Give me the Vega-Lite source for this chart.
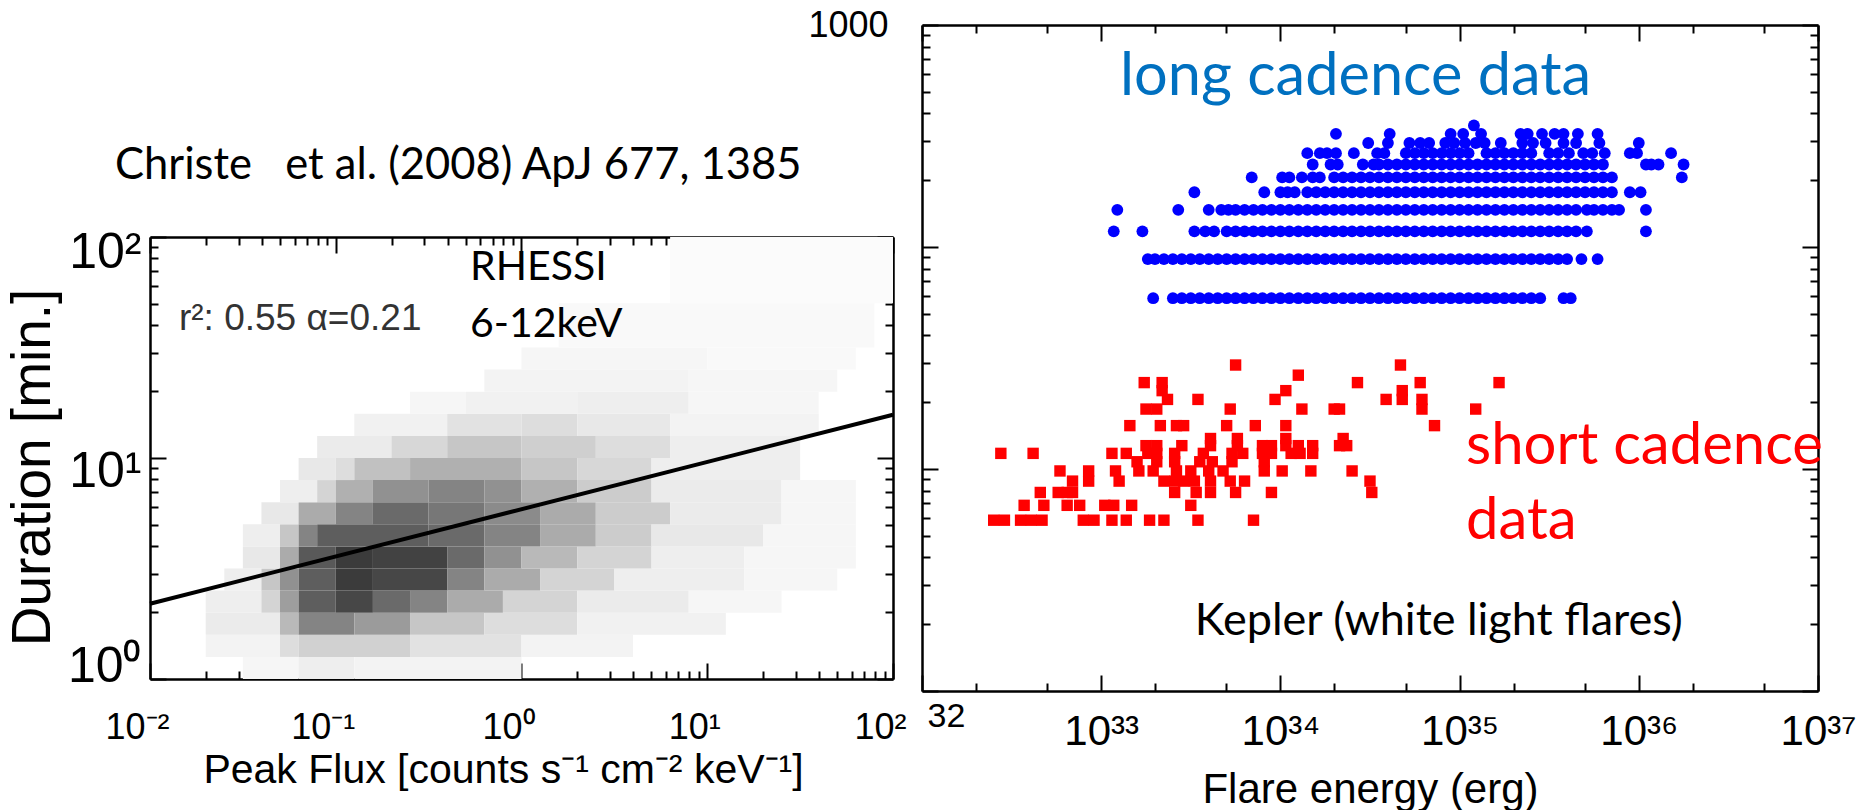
{
"$schema": "https://vega.github.io/schema/vega-lite/v6.json",
"background": "#ffffff",
"padding": {"left": 4, "top": 7, "right": 0, "bottom": 0},
"config": {"view": {"stroke": null}, "axis": {"grid": false}},
"spacing": -100,
"datasets": {
"heat": [
{"x0":0.03162,"x1":0.0631,"y0":1,"y1":1.259,"v":0.03},
{"x0":0.0631,"x1":0.1259,"y0":1,"y1":1.259,"v":0.06},
{"x0":0.1259,"x1":1,"y0":1,"y1":1.259,"v":0.04},
{"x0":0.01995,"x1":0.05012,"y0":1.259,"y1":1.585,"v":0.04},
{"x0":0.05012,"x1":0.0631,"y0":1.259,"y1":1.585,"v":0.12},
{"x0":0.0631,"x1":0.2512,"y0":1.259,"y1":1.585,"v":0.16},
{"x0":0.2512,"x1":1,"y0":1.259,"y1":1.585,"v":0.1},
{"x0":1,"x1":3.981,"y0":1.259,"y1":1.585,"v":0.04},
{"x0":0.01995,"x1":0.05012,"y0":1.585,"y1":1.995,"v":0.07},
{"x0":0.05012,"x1":0.0631,"y0":1.585,"y1":1.995,"v":0.25},
{"x0":0.0631,"x1":0.1259,"y0":1.585,"y1":1.995,"v":0.45},
{"x0":0.1259,"x1":0.2512,"y0":1.585,"y1":1.995,"v":0.36},
{"x0":0.2512,"x1":0.631,"y0":1.585,"y1":1.995,"v":0.2},
{"x0":0.631,"x1":1.995,"y0":1.585,"y1":1.995,"v":0.12},
{"x0":1.995,"x1":12.59,"y0":1.585,"y1":1.995,"v":0.05},
{"x0":0.01995,"x1":0.03981,"y0":1.995,"y1":2.512,"v":0.06},
{"x0":0.03981,"x1":0.05012,"y0":1.995,"y1":2.512,"v":0.15},
{"x0":0.05012,"x1":0.0631,"y0":1.995,"y1":2.512,"v":0.35},
{"x0":0.0631,"x1":0.1,"y0":1.995,"y1":2.512,"v":0.6},
{"x0":0.1,"x1":0.1585,"y0":1.995,"y1":2.512,"v":0.7},
{"x0":0.1585,"x1":0.2512,"y0":1.995,"y1":2.512,"v":0.55},
{"x0":0.2512,"x1":0.3981,"y0":1.995,"y1":2.512,"v":0.45},
{"x0":0.3981,"x1":0.7943,"y0":1.995,"y1":2.512,"v":0.3},
{"x0":0.7943,"x1":1.995,"y0":1.995,"y1":2.512,"v":0.15},
{"x0":1.995,"x1":7.943,"y0":1.995,"y1":2.512,"v":0.07},
{"x0":7.943,"x1":25.12,"y0":1.995,"y1":2.512,"v":0.03},
{"x0":0.02512,"x1":0.03981,"y0":2.512,"y1":3.162,"v":0.06},
{"x0":0.03981,"x1":0.05012,"y0":2.512,"y1":3.162,"v":0.2},
{"x0":0.05012,"x1":0.0631,"y0":2.512,"y1":3.162,"v":0.4},
{"x0":0.0631,"x1":0.1,"y0":2.512,"y1":3.162,"v":0.6},
{"x0":0.1,"x1":0.1585,"y0":2.512,"y1":3.162,"v":0.75},
{"x0":0.1585,"x1":0.3981,"y0":2.512,"y1":3.162,"v":0.7},
{"x0":0.3981,"x1":0.631,"y0":2.512,"y1":3.162,"v":0.45},
{"x0":0.631,"x1":1.259,"y0":2.512,"y1":3.162,"v":0.3},
{"x0":1.259,"x1":3.162,"y0":2.512,"y1":3.162,"v":0.15},
{"x0":3.162,"x1":15.85,"y0":2.512,"y1":3.162,"v":0.06},
{"x0":15.85,"x1":50.12,"y0":2.512,"y1":3.162,"v":0.03},
{"x0":0.03162,"x1":0.05012,"y0":3.162,"y1":3.981,"v":0.08},
{"x0":0.05012,"x1":0.0631,"y0":3.162,"y1":3.981,"v":0.3},
{"x0":0.0631,"x1":0.1,"y0":3.162,"y1":3.981,"v":0.62},
{"x0":0.1,"x1":0.1585,"y0":3.162,"y1":3.981,"v":0.75},
{"x0":0.1585,"x1":0.3981,"y0":3.162,"y1":3.981,"v":0.72},
{"x0":0.3981,"x1":0.631,"y0":3.162,"y1":3.981,"v":0.55},
{"x0":0.631,"x1":1,"y0":3.162,"y1":3.981,"v":0.4},
{"x0":1,"x1":1.995,"y0":3.162,"y1":3.981,"v":0.25},
{"x0":1.995,"x1":5.012,"y0":3.162,"y1":3.981,"v":0.15},
{"x0":5.012,"x1":15.85,"y0":3.162,"y1":3.981,"v":0.06},
{"x0":15.85,"x1":63.1,"y0":3.162,"y1":3.981,"v":0.03},
{"x0":0.03162,"x1":0.05012,"y0":3.981,"y1":5.012,"v":0.06},
{"x0":0.05012,"x1":0.0631,"y0":3.981,"y1":5.012,"v":0.2},
{"x0":0.0631,"x1":0.07943,"y0":3.981,"y1":5.012,"v":0.45},
{"x0":0.07943,"x1":0.3162,"y0":3.981,"y1":5.012,"v":0.6},
{"x0":0.3162,"x1":0.631,"y0":3.981,"y1":5.012,"v":0.55},
{"x0":0.631,"x1":1.259,"y0":3.981,"y1":5.012,"v":0.45},
{"x0":1.259,"x1":2.512,"y0":3.981,"y1":5.012,"v":0.3},
{"x0":2.512,"x1":5.012,"y0":3.981,"y1":5.012,"v":0.18},
{"x0":5.012,"x1":19.95,"y0":3.981,"y1":5.012,"v":0.08},
{"x0":19.95,"x1":63.1,"y0":3.981,"y1":5.012,"v":0.03},
{"x0":0.03981,"x1":0.0631,"y0":5.012,"y1":6.31,"v":0.08},
{"x0":0.0631,"x1":0.1,"y0":5.012,"y1":6.31,"v":0.3},
{"x0":0.1,"x1":0.1585,"y0":5.012,"y1":6.31,"v":0.45},
{"x0":0.1585,"x1":0.3162,"y0":5.012,"y1":6.31,"v":0.55},
{"x0":0.3162,"x1":0.631,"y0":5.012,"y1":6.31,"v":0.5},
{"x0":0.631,"x1":1.259,"y0":5.012,"y1":6.31,"v":0.42},
{"x0":1.259,"x1":2.512,"y0":5.012,"y1":6.31,"v":0.3},
{"x0":2.512,"x1":6.31,"y0":5.012,"y1":6.31,"v":0.18},
{"x0":6.31,"x1":25.12,"y0":5.012,"y1":6.31,"v":0.07},
{"x0":25.12,"x1":63.1,"y0":5.012,"y1":6.31,"v":0.03},
{"x0":0.05012,"x1":0.07943,"y0":6.31,"y1":7.943,"v":0.06},
{"x0":0.07943,"x1":0.1,"y0":6.31,"y1":7.943,"v":0.15},
{"x0":0.1,"x1":0.1585,"y0":6.31,"y1":7.943,"v":0.28},
{"x0":0.1585,"x1":0.3162,"y0":6.31,"y1":7.943,"v":0.4},
{"x0":0.3162,"x1":0.631,"y0":6.31,"y1":7.943,"v":0.45},
{"x0":0.631,"x1":1,"y0":6.31,"y1":7.943,"v":0.4},
{"x0":1,"x1":1.995,"y0":6.31,"y1":7.943,"v":0.28},
{"x0":1.995,"x1":5.012,"y0":6.31,"y1":7.943,"v":0.18},
{"x0":5.012,"x1":25.12,"y0":6.31,"y1":7.943,"v":0.07},
{"x0":25.12,"x1":63.1,"y0":6.31,"y1":7.943,"v":0.03},
{"x0":0.0631,"x1":0.1,"y0":7.943,"y1":10,"v":0.08},
{"x0":0.1,"x1":0.1259,"y0":7.943,"y1":10,"v":0.12},
{"x0":0.1259,"x1":0.2512,"y0":7.943,"y1":10,"v":0.22},
{"x0":0.2512,"x1":1,"y0":7.943,"y1":10,"v":0.28},
{"x0":1,"x1":1.995,"y0":7.943,"y1":10,"v":0.2},
{"x0":1.995,"x1":5.012,"y0":7.943,"y1":10,"v":0.14},
{"x0":5.012,"x1":31.62,"y0":7.943,"y1":10,"v":0.06},
{"x0":0.07943,"x1":0.1995,"y0":10,"y1":12.59,"v":0.07},
{"x0":0.1995,"x1":0.3981,"y0":10,"y1":12.59,"v":0.14},
{"x0":0.3981,"x1":1,"y0":10,"y1":12.59,"v":0.2},
{"x0":1,"x1":2.512,"y0":10,"y1":12.59,"v":0.17},
{"x0":2.512,"x1":6.31,"y0":10,"y1":12.59,"v":0.12},
{"x0":6.31,"x1":31.62,"y0":10,"y1":12.59,"v":0.06},
{"x0":0.1259,"x1":0.3981,"y0":12.59,"y1":15.85,"v":0.05},
{"x0":0.3981,"x1":1,"y0":12.59,"y1":15.85,"v":0.1},
{"x0":1,"x1":1.995,"y0":12.59,"y1":15.85,"v":0.12},
{"x0":1.995,"x1":6.31,"y0":12.59,"y1":15.85,"v":0.08},
{"x0":6.31,"x1":39.81,"y0":12.59,"y1":15.85,"v":0.04},
{"x0":0.2512,"x1":0.5012,"y0":15.85,"y1":19.95,"v":0.03},
{"x0":0.5012,"x1":1.995,"y0":15.85,"y1":19.95,"v":0.05},
{"x0":1.995,"x1":7.943,"y0":15.85,"y1":19.95,"v":0.06},
{"x0":7.943,"x1":39.81,"y0":15.85,"y1":19.95,"v":0.03},
{"x0":0.631,"x1":7.943,"y0":19.95,"y1":25.12,"v":0.04},
{"x0":7.943,"x1":50.12,"y0":19.95,"y1":25.12,"v":0.03},
{"x0":1,"x1":10,"y0":25.12,"y1":31.62,"v":0.03},
{"x0":10,"x1":63.1,"y0":25.12,"y1":31.62,"v":0.02},
{"x0":1.585,"x1":79.43,"y0":31.62,"y1":50.12,"v":0.02},
{"x0":6.31,"x1":100,"y0":50.12,"y1":100,"v":0.015}
],
"long": [
{"e":1.95e33,"d":58.8},{"e":2.512e33,"d":58.8},{"e":2.818e33,"d":58.8},{"e":3.162e33,"d":58.8},{"e":3.548e33,"d":58.8},{"e":3.981e33,"d":58.8},{"e":4.467e33,"d":58.8},{"e":5.012e33,"d":58.8},{"e":5.623e33,"d":58.8},{"e":6.31e33,"d":58.8},{"e":7.079e33,"d":58.8},{"e":7.943e33,"d":58.8},{"e":8.913e33,"d":58.8},
{"e":1e34,"d":58.8},{"e":1.122e34,"d":58.8},{"e":1.259e34,"d":58.8},{"e":1.413e34,"d":58.8},{"e":1.585e34,"d":58.8},{"e":1.778e34,"d":58.8},{"e":1.995e34,"d":58.8},{"e":2.239e34,"d":58.8},{"e":2.512e34,"d":58.8},{"e":2.818e34,"d":58.8},{"e":3.162e34,"d":58.8},{"e":3.548e34,"d":58.8},{"e":3.981e34,"d":58.8},{"e":4.467e34,"d":58.8},{"e":5.012e34,"d":58.8},{"e":5.623e34,"d":58.8},{"e":6.31e34,"d":58.8},{"e":7.079e34,"d":58.8},{"e":7.943e34,"d":58.8},{"e":8.913e34,"d":58.8},
{"e":1e35,"d":58.8},{"e":1.122e35,"d":58.8},{"e":1.259e35,"d":58.8},{"e":1.413e35,"d":58.8},{"e":1.585e35,"d":58.8},{"e":1.778e35,"d":58.8},{"e":1.995e35,"d":58.8},{"e":2.239e35,"d":58.8},{"e":2.512e35,"d":58.8},{"e":2.818e35,"d":58.8},{"e":3.802e35,"d":58.8},{"e":4.169e35,"d":58.8},
{"e":1.82e33,"d":88.2},{"e":1.995e33,"d":88.2},{"e":2.239e33,"d":88.2},{"e":2.512e33,"d":88.2},{"e":2.818e33,"d":88.2},{"e":3.162e33,"d":88.2},{"e":3.548e33,"d":88.2},{"e":3.981e33,"d":88.2},{"e":4.467e33,"d":88.2},{"e":5.012e33,"d":88.2},{"e":5.623e33,"d":88.2},{"e":6.31e33,"d":88.2},{"e":7.079e33,"d":88.2},{"e":7.943e33,"d":88.2},{"e":8.913e33,"d":88.2},
{"e":1e34,"d":88.2},{"e":1.122e34,"d":88.2},{"e":1.259e34,"d":88.2},{"e":1.413e34,"d":88.2},{"e":1.585e34,"d":88.2},{"e":1.778e34,"d":88.2},{"e":1.995e34,"d":88.2},{"e":2.239e34,"d":88.2},{"e":2.512e34,"d":88.2},{"e":2.818e34,"d":88.2},{"e":3.162e34,"d":88.2},{"e":3.548e34,"d":88.2},{"e":3.981e34,"d":88.2},{"e":4.467e34,"d":88.2},{"e":5.012e34,"d":88.2},{"e":5.623e34,"d":88.2},{"e":6.31e34,"d":88.2},{"e":7.079e34,"d":88.2},{"e":7.943e34,"d":88.2},{"e":8.913e34,"d":88.2},
{"e":1e35,"d":88.2},{"e":1.122e35,"d":88.2},{"e":1.259e35,"d":88.2},{"e":1.413e35,"d":88.2},{"e":1.585e35,"d":88.2},{"e":1.778e35,"d":88.2},{"e":1.995e35,"d":88.2},{"e":2.239e35,"d":88.2},{"e":2.512e35,"d":88.2},{"e":2.818e35,"d":88.2},{"e":3.162e35,"d":88.2},{"e":3.548e35,"d":88.2},{"e":3.981e35,"d":88.2},{"e":4.786e35,"d":88.2},{"e":5.888e35,"d":88.2},
{"e":1.175e33,"d":117.6},{"e":1.698e33,"d":117.6},{"e":3.311e33,"d":117.6},{"e":3.802e33,"d":117.6},{"e":4.266e33,"d":117.6},{"e":5.012e33,"d":117.6},{"e":5.623e33,"d":117.6},{"e":6.31e33,"d":117.6},{"e":7.079e33,"d":117.6},{"e":7.943e33,"d":117.6},{"e":8.913e33,"d":117.6},
{"e":1e34,"d":117.6},{"e":1.122e34,"d":117.6},{"e":1.259e34,"d":117.6},{"e":1.413e34,"d":117.6},{"e":1.585e34,"d":117.6},{"e":1.778e34,"d":117.6},{"e":1.995e34,"d":117.6},{"e":2.239e34,"d":117.6},{"e":2.512e34,"d":117.6},{"e":2.818e34,"d":117.6},{"e":3.162e34,"d":117.6},{"e":3.548e34,"d":117.6},{"e":3.981e34,"d":117.6},{"e":4.467e34,"d":117.6},{"e":5.012e34,"d":117.6},{"e":5.623e34,"d":117.6},{"e":6.31e34,"d":117.6},{"e":7.079e34,"d":117.6},{"e":7.943e34,"d":117.6},{"e":8.913e34,"d":117.6},
{"e":1e35,"d":117.6},{"e":1.122e35,"d":117.6},{"e":1.259e35,"d":117.6},{"e":1.413e35,"d":117.6},{"e":1.585e35,"d":117.6},{"e":1.778e35,"d":117.6},{"e":1.995e35,"d":117.6},{"e":2.239e35,"d":117.6},{"e":2.512e35,"d":117.6},{"e":2.818e35,"d":117.6},{"e":3.162e35,"d":117.6},{"e":3.548e35,"d":117.6},{"e":3.981e35,"d":117.6},{"e":4.467e35,"d":117.6},{"e":5.129e35,"d":117.6},{"e":1.096e36,"d":117.6},
{"e":1.23e33,"d":147},{"e":2.692e33,"d":147},{"e":3.981e33,"d":147},{"e":4.677e33,"d":147},{"e":5.129e33,"d":147},{"e":5.623e33,"d":147},{"e":6.31e33,"d":147},{"e":7.079e33,"d":147},{"e":7.943e33,"d":147},{"e":8.913e33,"d":147},
{"e":1e34,"d":147},{"e":1.122e34,"d":147},{"e":1.259e34,"d":147},{"e":1.413e34,"d":147},{"e":1.585e34,"d":147},{"e":1.778e34,"d":147},{"e":1.995e34,"d":147},{"e":2.239e34,"d":147},{"e":2.512e34,"d":147},{"e":2.818e34,"d":147},{"e":3.162e34,"d":147},{"e":3.548e34,"d":147},{"e":3.981e34,"d":147},{"e":4.467e34,"d":147},{"e":5.012e34,"d":147},{"e":5.623e34,"d":147},{"e":6.31e34,"d":147},{"e":7.079e34,"d":147},{"e":7.943e34,"d":147},{"e":8.913e34,"d":147},
{"e":1e35,"d":147},{"e":1.122e35,"d":147},{"e":1.259e35,"d":147},{"e":1.413e35,"d":147},{"e":1.585e35,"d":147},{"e":1.778e35,"d":147},{"e":1.995e35,"d":147},{"e":2.239e35,"d":147},{"e":2.512e35,"d":147},{"e":2.818e35,"d":147},{"e":3.162e35,"d":147},{"e":3.548e35,"d":147},{"e":3.981e35,"d":147},{"e":4.467e35,"d":147},{"e":5.129e35,"d":147},{"e":5.623e35,"d":147},{"e":6.31e35,"d":147},{"e":7.079e35,"d":147},{"e":7.762e35,"d":147},{"e":1.096e36,"d":147},
{"e":3.311e33,"d":176.4},{"e":8.128e33,"d":176.4},{"e":1e34,"d":176.4},{"e":1.096e34,"d":176.4},{"e":1.202e34,"d":176.4},{"e":1.413e34,"d":176.4},{"e":1.585e34,"d":176.4},{"e":1.778e34,"d":176.4},{"e":1.995e34,"d":176.4},{"e":2.239e34,"d":176.4},{"e":2.512e34,"d":176.4},{"e":2.818e34,"d":176.4},{"e":3.162e34,"d":176.4},{"e":3.548e34,"d":176.4},{"e":3.981e34,"d":176.4},{"e":4.467e34,"d":176.4},{"e":5.012e34,"d":176.4},{"e":5.623e34,"d":176.4},{"e":6.31e34,"d":176.4},{"e":7.079e34,"d":176.4},{"e":7.943e34,"d":176.4},{"e":8.913e34,"d":176.4},
{"e":1e35,"d":176.4},{"e":1.122e35,"d":176.4},{"e":1.259e35,"d":176.4},{"e":1.413e35,"d":176.4},{"e":1.585e35,"d":176.4},{"e":1.778e35,"d":176.4},{"e":1.995e35,"d":176.4},{"e":2.239e35,"d":176.4},{"e":2.512e35,"d":176.4},{"e":2.818e35,"d":176.4},{"e":3.162e35,"d":176.4},{"e":3.548e35,"d":176.4},{"e":3.981e35,"d":176.4},{"e":4.467e35,"d":176.4},{"e":5.012e35,"d":176.4},{"e":5.623e35,"d":176.4},{"e":6.31e35,"d":176.4},{"e":7.079e35,"d":176.4},{"e":8.913e35,"d":176.4},{"e":1.023e36,"d":176.4},
{"e":6.918e33,"d":205.8},{"e":1.023e34,"d":205.8},{"e":1.122e34,"d":205.8},{"e":1.318e34,"d":205.8},{"e":1.514e34,"d":205.8},{"e":1.66e34,"d":205.8},{"e":1.995e34,"d":205.8},{"e":2.239e34,"d":205.8},{"e":2.512e34,"d":205.8},{"e":2.818e34,"d":205.8},{"e":3.162e34,"d":205.8},{"e":3.548e34,"d":205.8},{"e":3.981e34,"d":205.8},{"e":4.467e34,"d":205.8},{"e":5.012e34,"d":205.8},{"e":5.623e34,"d":205.8},{"e":6.31e34,"d":205.8},{"e":7.079e34,"d":205.8},{"e":7.943e34,"d":205.8},{"e":8.913e34,"d":205.8},
{"e":1e35,"d":205.8},{"e":1.122e35,"d":205.8},{"e":1.259e35,"d":205.8},{"e":1.413e35,"d":205.8},{"e":1.585e35,"d":205.8},{"e":1.778e35,"d":205.8},{"e":1.995e35,"d":205.8},{"e":2.239e35,"d":205.8},{"e":2.512e35,"d":205.8},{"e":2.818e35,"d":205.8},{"e":3.162e35,"d":205.8},{"e":3.548e35,"d":205.8},{"e":3.981e35,"d":205.8},{"e":4.467e35,"d":205.8},{"e":5.012e35,"d":205.8},{"e":5.623e35,"d":205.8},{"e":6.31e35,"d":205.8},{"e":7.079e35,"d":205.8},{"e":1.738e36,"d":205.8},
{"e":1.514e34,"d":235.2},{"e":1.905e34,"d":235.2},{"e":2.089e34,"d":235.2},{"e":2.884e34,"d":235.2},{"e":3.311e34,"d":235.2},{"e":3.548e34,"d":235.2},{"e":3.981e34,"d":235.2},{"e":4.467e34,"d":235.2},{"e":5.012e34,"d":235.2},{"e":5.623e34,"d":235.2},{"e":6.31e34,"d":235.2},{"e":7.079e34,"d":235.2},{"e":7.943e34,"d":235.2},{"e":8.913e34,"d":235.2},
{"e":1e35,"d":235.2},{"e":1.122e35,"d":235.2},{"e":1.259e35,"d":235.2},{"e":1.413e35,"d":235.2},{"e":1.585e35,"d":235.2},{"e":1.778e35,"d":235.2},{"e":1.995e35,"d":235.2},{"e":2.239e35,"d":235.2},{"e":2.512e35,"d":235.2},{"e":2.818e35,"d":235.2},{"e":3.162e35,"d":235.2},{"e":3.548e35,"d":235.2},{"e":3.981e35,"d":235.2},{"e":4.467e35,"d":235.2},{"e":5.012e35,"d":235.2},{"e":5.623e35,"d":235.2},{"e":6.31e35,"d":235.2},{"e":1.096e36,"d":235.2},{"e":1.175e36,"d":235.2},{"e":1.288e36,"d":235.2},{"e":1.778e36,"d":235.2},
{"e":1.413e34,"d":264.6},{"e":1.66e34,"d":264.6},{"e":1.82e34,"d":264.6},{"e":2.042e34,"d":264.6},{"e":2.57e34,"d":264.6},{"e":3.467e34,"d":264.6},{"e":3.802e34,"d":264.6},{"e":5.012e34,"d":264.6},{"e":5.623e34,"d":264.6},{"e":6.31e34,"d":264.6},{"e":7.079e34,"d":264.6},{"e":7.943e34,"d":264.6},{"e":8.913e34,"d":264.6},{"e":1e35,"d":264.6},{"e":1.122e35,"d":264.6},{"e":1.413e35,"d":264.6},{"e":1.585e35,"d":264.6},{"e":1.778e35,"d":264.6},{"e":1.995e35,"d":264.6},{"e":2.239e35,"d":264.6},{"e":2.512e35,"d":264.6},{"e":3.162e35,"d":264.6},{"e":3.548e35,"d":264.6},{"e":4.074e35,"d":264.6},{"e":4.898e35,"d":264.6},{"e":5.495e35,"d":264.6},{"e":6.457e35,"d":264.6},{"e":8.913e35,"d":264.6},{"e":9.772e35,"d":264.6},{"e":1.514e36,"d":264.6},
{"e":3.09e34,"d":294},{"e":3.981e34,"d":294},{"e":5.248e34,"d":294},{"e":6.026e34,"d":294},{"e":6.761e34,"d":294},{"e":8.318e34,"d":294},{"e":9.333e34,"d":294},{"e":1.072e35,"d":294},{"e":1.23e35,"d":294},{"e":1.38e35,"d":294},{"e":1.698e35,"d":294},{"e":2.239e35,"d":294},{"e":2.57e35,"d":294},{"e":3.02e35,"d":294},{"e":3.802e35,"d":294},{"e":4.467e35,"d":294},{"e":6.026e35,"d":294},{"e":1e36,"d":294},
{"e":2.042e34,"d":323.4},{"e":4.074e34,"d":323.4},{"e":8.913e34,"d":323.4},{"e":1.047e35,"d":323.4},{"e":1.318e35,"d":323.4},{"e":2.188e35,"d":323.4},{"e":2.399e35,"d":323.4},{"e":2.884e35,"d":323.4},{"e":3.388e35,"d":323.4},{"e":3.802e35,"d":323.4},{"e":4.571e35,"d":323.4},{"e":5.888e35,"d":323.4},
{"e":1.202e35,"d":352.8}
],
"short": [
{"e":2.512e32,"d":5.88},{"e":2.884e32,"d":5.88},{"e":3.548e32,"d":5.88},{"e":4.074e32,"d":5.88},{"e":4.677e32,"d":5.88},{"e":7.943e32,"d":5.88},{"e":9.12e32,"d":5.88},{"e":1.148e33,"d":5.88},{"e":1.38e33,"d":5.88},{"e":1.862e33,"d":5.88},{"e":2.239e33,"d":5.88},{"e":3.467e33,"d":5.88},{"e":7.079e33,"d":5.88},
{"e":3.715e32,"d":6.86},{"e":4.786e32,"d":6.86},{"e":6.457e32,"d":6.86},{"e":7.586e32,"d":6.86},{"e":1.047e33,"d":6.86},{"e":1.175e33,"d":6.86},{"e":1.479e33,"d":6.86},{"e":3.162e33,"d":6.86},
{"e":4.571e32,"d":7.84},{"e":5.754e32,"d":7.84},{"e":6.457e32,"d":7.84},{"e":6.918e32,"d":7.84},{"e":2.57e33,"d":7.84},{"e":3.388e33,"d":7.84},{"e":4.074e33,"d":7.84},{"e":5.623e33,"d":7.84},{"e":8.913e33,"d":7.84},{"e":3.236e34,"d":7.84},
{"e":6.918e32,"d":8.82},{"e":8.511e32,"d":8.82},{"e":1.259e33,"d":8.82},{"e":2.239e33,"d":8.82},{"e":2.57e33,"d":8.82},{"e":2.884e33,"d":8.82},{"e":3.311e33,"d":8.82},{"e":4.074e33,"d":8.82},{"e":5.248e33,"d":8.82},{"e":6.31e33,"d":8.82},{"e":3.162e34,"d":8.82},
{"e":5.888e32,"d":9.8},{"e":8.511e32,"d":9.8},{"e":1.202e33,"d":9.8},{"e":1.622e33,"d":9.8},{"e":1.95e33,"d":9.8},{"e":2.63e33,"d":9.8},{"e":3.162e33,"d":9.8},{"e":3.981e33,"d":9.8},{"e":4.786e33,"d":9.8},{"e":8.128e33,"d":9.8},{"e":1.023e34,"d":9.8},{"e":1.479e34,"d":9.8},{"e":2.512e34,"d":9.8},
{"e":1.585e33,"d":10.78},{"e":2.042e33,"d":10.78},{"e":2.57e33,"d":10.78},{"e":3.548e33,"d":10.78},{"e":4.169e33,"d":10.78},{"e":5.37e33,"d":10.78},{"e":8.128e33,"d":10.78},
{"e":2.754e32,"d":11.76},{"e":4.169e32,"d":11.76},{"e":1.148e33,"d":11.76},{"e":1.38e33,"d":11.76},{"e":1.82e33,"d":11.76},{"e":2.042e33,"d":11.76},{"e":2.57e33,"d":11.76},{"e":3.715e33,"d":11.76},{"e":5.37e33,"d":11.76},{"e":6.166e33,"d":11.76},{"e":7.943e33,"d":11.76},{"e":8.913e33,"d":11.76},{"e":1.148e34,"d":11.76},{"e":1.288e34,"d":11.76},{"e":1.514e34,"d":11.76},
{"e":1.778e33,"d":12.74},{"e":2.042e33,"d":12.74},{"e":2.818e33,"d":12.74},{"e":4.074e33,"d":12.74},{"e":5.754e33,"d":12.74},{"e":7.943e33,"d":12.74},{"e":8.913e33,"d":12.74},{"e":1.072e34,"d":12.74},{"e":1.259e34,"d":12.74},{"e":1.514e34,"d":12.74},{"e":2.138e34,"d":12.74},{"e":2.344e34,"d":12.74},
{"e":4.074e33,"d":13.72},{"e":5.754e33,"d":13.72},{"e":1.072e34,"d":13.72},{"e":2.239e34,"d":13.72},
{"e":1.445e33,"d":15.68},{"e":2.138e33,"d":15.68},{"e":2.63e33,"d":15.68},{"e":2.884e33,"d":15.68},{"e":5.012e33,"d":15.68},{"e":7.244e33,"d":15.68},{"e":1.072e34,"d":15.68},{"e":7.244e34,"d":15.68},
{"e":1.778e33,"d":18.62},{"e":2.042e33,"d":18.62},{"e":5.248e33,"d":18.62},{"e":1.318e34,"d":18.62},{"e":1.995e34,"d":18.62},{"e":2.138e34,"d":18.62},{"e":6.166e34,"d":18.62},{"e":1.23e35,"d":18.62},
{"e":2.344e33,"d":20.58},{"e":3.467e33,"d":20.58},{"e":9.333e33,"d":20.58},{"e":3.89e34,"d":20.58},{"e":4.786e34,"d":20.58},{"e":6.166e34,"d":20.58},
{"e":2.188e33,"d":22.54},{"e":1.072e34,"d":22.54},{"e":4.786e34,"d":22.54},
{"e":1.738e33,"d":24.5},{"e":2.188e33,"d":24.5},{"e":2.692e34,"d":24.5},{"e":6.026e34,"d":24.5},{"e":1.66e35,"d":24.5},
{"e":1.259e34,"d":26.46},
{"e":5.623e33,"d":29.4},{"e":4.677e34,"d":29.4}
]
},
"hconcat": [
{
"spacing": 0,
"vconcat": [
{"width": 743, "height": 118, "data": {"values": []}, "mark": "point"},
{
"width": 743, "height": 442,
"title": {"text": "Christe\u00a0\u00a0 et al. (2008) ApJ 677, 1385", "anchor": "start", "frame": "group", "font": "Lato", "fontSize": 43.5, "fontWeight": "normal", "color": "#000000", "offset": 39, "dx": -35},
"layer": [
{"data": {"name": "heat"}, "mark": {"type": "rect"},
"encoding": {
"x": {"field": "x0", "type": "quantitative", "scale": {"type": "log", "domain": [0.01, 100], "nice": false},
 "axis": {"orient": "bottom", "values": [0.01,0.02,0.03,0.04,0.05,0.06,0.07,0.08,0.09,0.1,0.2,0.3,0.4,0.5,0.6,0.7,0.8,0.9,1,2,3,4,5,6,7,8,9,10,20,30,40,50,60,70,80,90,100],
 "labelExpr": "datum.value == 0.01 ? '10⁻²' : datum.value == 0.1 ? '10⁻¹' : datum.value == 1 ? '10⁰' : datum.value == 10 ? '10¹' : datum.value == 100 ? '10²' : ''",
 "labelFlush": false, "labelOverlap": false, "labelBound": false, "labelOffset": -13,
 "labelFont": "Liberation Sans", "labelFontSize": 36, "labelColor": "#000000", "labelPadding": 47,
 "tickSize": {"condition": {"test": "indexof([0.01,0.1,1,10,100], datum.value) >= 0", "value": -16}, "value": -8},
 "tickWidth": 2, "tickColor": "#000000", "domainColor": "#000000", "domainWidth": 2.5,
 "title": "Peak Flux [counts s⁻¹ cm⁻² keV⁻¹]", "titleFont": "Liberation Sans", "titleFontSize": 41, "titleFontWeight": "normal", "titleColor": "#000000", "titlePadding": -3, "titleX": 353}},
"x2": {"field": "x1"},
"y": {"field": "y0", "type": "quantitative", "scale": {"type": "log", "domain": [1, 100], "nice": false},
 "axis": {"orient": "left", "values": [1,2,3,4,5,6,7,8,9,10,20,30,40,50,60,70,80,90,100],
 "labelExpr": "datum.value == 1 ? '10⁰' : datum.value == 10 ? '10¹' : datum.value == 100 ? '10²' : ''",
 "labelOffset": {"condition": [{"test": "datum.value == 1", "value": -13}, {"test": "datum.value == 100", "value": 15}], "value": 13},
 "labelFlush": false, "labelOverlap": false, "labelBound": false, "labelBaseline": "middle",
 "labelFont": "Liberation Sans", "labelFontSize": 50, "labelColor": "#000000", "labelPadding": 25,
 "tickSize": {"condition": {"test": "indexof([1,10,100], datum.value) >= 0", "value": -16}, "value": -8},
 "tickWidth": 2, "tickColor": "#000000", "domainColor": "#000000", "domainWidth": 2.5,
 "title": "Duration [min.]", "titleFont": "Liberation Sans", "titleFontSize": 55, "titleFontWeight": "normal", "titleColor": "#000000", "titleX": -118, "titleY": 230, "titleBaseline": "middle"}},
"y2": {"field": "y1"},
"color": {"field": "v", "type": "quantitative", "scale": {"domain": [0, 1], "range": ["#ffffff", "#000000"]}, "legend": null}
}},
{"data": {"values": [{"x": 0.01, "y": 2.19}, {"x": 100, "y": 15.7}]},
"mark": {"type": "line", "color": "#000000", "strokeWidth": 4},
"encoding": {
"x": {"field": "x", "type": "quantitative", "axis": {"orient": "top", "values": [0.01,0.02,0.03,0.04,0.05,0.06,0.07,0.08,0.09,0.1,0.2,0.3,0.4,0.5,0.6,0.7,0.8,0.9,1,2,3,4,5,6,7,8,9,10,20,30,40,50,60,70,80,90,100], "labels": false, "title": null,
 "tickSize": {"condition": {"test": "indexof([0.01,0.1,1,10,100], datum.value) >= 0", "value": -16}, "value": -8},
 "tickWidth": 2, "tickColor": "#000000", "domainColor": "#000000", "domainWidth": 2.5}},
"y": {"field": "y", "type": "quantitative", "axis": {"orient": "right", "values": [1,2,3,4,5,6,7,8,9,10,20,30,40,50,60,70,80,90,100], "labels": false, "title": null,
 "tickSize": {"condition": {"test": "indexof([1,10,100], datum.value) >= 0", "value": -16}, "value": -8},
 "tickWidth": 2, "tickColor": "#000000", "domainColor": "#000000", "domainWidth": 2.5}}
}},
{"data": {"values": [{"x": 0.01432, "y": 37.8, "t": "r²: 0.55 α=0.21"}]},
"mark": {"type": "text", "font": "Liberation Sans", "fontSize": 37, "color": "#333333", "align": "left", "baseline": "alphabetic"},
"encoding": {"x": {"field": "x", "type": "quantitative", "axis": null}, "y": {"field": "y", "type": "quantitative", "axis": null}, "text": {"field": "t"}}},
{"data": {"values": [{"x": 0.528, "y": 64.1, "t": "RHESSI"}, {"x": 0.528, "y": 35.2, "t": "6-12keV"}]},
"mark": {"type": "text", "font": "Lato", "fontSize": 41, "color": "#000000", "align": "left", "baseline": "alphabetic"},
"encoding": {"x": {"field": "x", "type": "quantitative", "axis": null}, "y": {"field": "y", "type": "quantitative", "axis": null}, "text": {"field": "t"}}}
],
"resolve": {"axis": {"x": "independent", "y": "independent"}}
}
]
},
{
"width": 896, "height": 666,
"layer": [
{"data": {"name": "long"}, "mark": {"type": "circle", "color": "#0000ff", "size": 140, "opacity": 1},
"encoding": {
"x": {"field": "e", "type": "quantitative", "scale": {"type": "log", "domain": [1e32, 1e37], "nice": false},
 "axis": {"orient": "bottom", "values": [1e32,2e32,5e32,1e33,2e33,5e33,1e34,2e34,5e34,1e35,2e35,5e35,1e36,2e36,5e36,1e37],
 "labelExpr": "datum.value == 1e32 ? '32' : datum.value == 1e33 ? '10³³' : datum.value == 1e34 ? '10³⁴' : datum.value == 1e35 ? '10³⁵' : datum.value == 1e36 ? '10³⁶' : datum.value == 1e37 ? '10³⁷' : ''",
 "labelAlign": {"condition": {"test": "datum.value == 1e32", "value": "left"}, "value": "center"},
 "labelOffset": {"condition": {"test": "datum.value == 1e32", "value": 5}, "value": 0},
 "labelFontSize": {"condition": {"test": "datum.value == 1e32", "value": 34}, "value": 42},
 "labelPadding": {"condition": {"test": "datum.value == 1e32", "value": 24}, "value": 36},
 "labelFlush": false, "labelOverlap": false, "labelBound": false,
 "labelFont": "Liberation Sans", "labelColor": "#000000",
 "tickSize": {"condition": {"test": "indexof([1e32,1e33,1e34,1e35,1e36,1e37], datum.value) >= 0", "value": -16}, "value": -8},
 "tickWidth": 2, "tickColor": "#000000", "domainColor": "#000000", "domainWidth": 2.5,
 "title": "Flare energy (erg)", "titleFont": "Liberation Sans", "titleFontSize": 42, "titleFontWeight": "normal", "titleColor": "#000000", "titlePadding": 9, "titleX": 448}},
"y": {"field": "d", "type": "quantitative", "scale": {"type": "log", "domain": [1, 1000], "nice": false},
 "axis": {"orient": "left", "values": [1,2,3,4,5,6,7,8,9,10,20,30,40,50,60,70,80,90,100,200,300,400,500,600,700,800,900,1000],
 "labelExpr": "datum.value == 1000 ? '1000' : ''",
 "labelFlush": false, "labelOverlap": false, "labelBound": false, "labelBaseline": "middle",
 "labelFont": "Liberation Sans", "labelFontSize": 36, "labelColor": "#000000", "labelPadding": 50,
 "tickSize": {"condition": {"test": "indexof([1,10,100,1000], datum.value) >= 0", "value": -16}, "value": -8},
 "tickWidth": 2, "tickColor": "#000000", "domainColor": "#000000", "domainWidth": 2.5, "title": null}}
}},
{"data": {"name": "short"}, "mark": {"type": "square", "color": "#ff0000", "size": 130, "opacity": 1},
"encoding": {
"x": {"field": "e", "type": "quantitative", "axis": {"orient": "top", "values": [1e32,2e32,5e32,1e33,2e33,5e33,1e34,2e34,5e34,1e35,2e35,5e35,1e36,2e36,5e36,1e37], "labels": false, "title": null,
 "tickSize": {"condition": {"test": "indexof([1e32,1e33,1e34,1e35,1e36,1e37], datum.value) >= 0", "value": -16}, "value": -8},
 "tickWidth": 2, "tickColor": "#000000", "domainColor": "#000000", "domainWidth": 2.5}},
"y": {"field": "d", "type": "quantitative", "axis": {"orient": "right", "values": [1,2,3,4,5,6,7,8,9,10,20,30,40,50,60,70,80,90,100,200,300,400,500,600,700,800,900,1000], "labels": false, "title": null,
 "tickSize": {"condition": {"test": "indexof([1,10,100,1000], datum.value) >= 0", "value": -16}, "value": -8},
 "tickWidth": 2, "tickColor": "#000000", "domainColor": "#000000", "domainWidth": 2.5}}
}},
{"data": {"values": [{"x": 1.274e33, "y": 486, "t": "long cadence data"}]},
"mark": {"type": "text", "font": "Lato", "fontSize": 59.5, "color": "#0070c0", "align": "left", "baseline": "alphabetic"},
"encoding": {"x": {"field": "x", "type": "quantitative", "axis": null}, "y": {"field": "y", "type": "quantitative", "axis": null}, "text": {"field": "t"}}},
{"data": {"values": [{"x": 1.086e35, "y": 10.53, "t": "short cadence"}, {"x": 1.086e35, "y": 4.84, "t": "data"}]},
"mark": {"type": "text", "font": "Lato", "fontSize": 58, "color": "#ff0000", "align": "left", "baseline": "alphabetic"},
"encoding": {"x": {"field": "x", "type": "quantitative", "axis": null}, "y": {"field": "y", "type": "quantitative", "axis": null}, "text": {"field": "t"}}},
{"data": {"values": [{"x": 3.33e33, "y": 1.787, "t": "Kepler (white light flares)"}]},
"mark": {"type": "text", "font": "Lato", "fontSize": 45, "color": "#000000", "align": "left", "baseline": "alphabetic"},
"encoding": {"x": {"field": "x", "type": "quantitative", "axis": null}, "y": {"field": "y", "type": "quantitative", "axis": null}, "text": {"field": "t"}}}
],
"resolve": {"axis": {"x": "independent", "y": "independent"}}
}
]
}
